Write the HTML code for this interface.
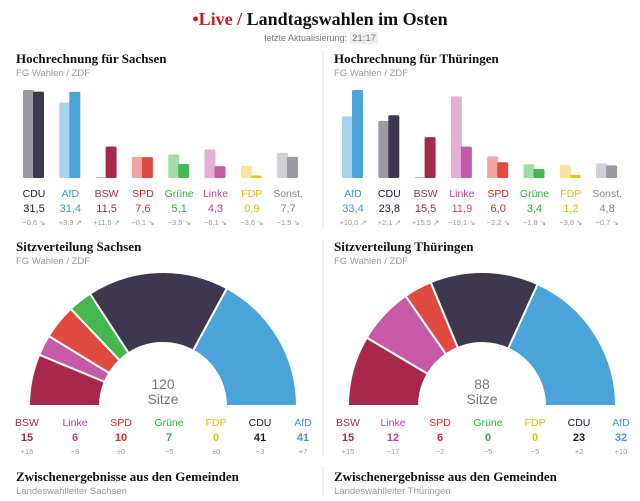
<!DOCTYPE html>
<html><head><meta charset="utf-8">
<style>
body{margin:0;background:#fff;width:640px;height:496px;overflow:hidden;font-family:"Liberation Sans",sans-serif}
svg text{font-family:"Liberation Sans",sans-serif}
.serif{font-family:"Liberation Serif",serif;font-weight:bold}
</style></head>
<body>
<svg id="c" width="640" height="496" viewBox="0 0 640 496" xmlns="http://www.w3.org/2000/svg">
<text x="320" y="25" text-anchor="middle" class="serif" font-size="18"><tspan fill="#d0191f">•Live</tspan><tspan fill="#d0191f"> /</tspan><tspan fill="#111"> Landtagswahlen im Osten</tspan></text>
<text x="347" y="41" text-anchor="end" font-size="9" fill="#777">letzte Aktualisierung:</text>
<rect x="350" y="32" width="28" height="12" fill="#eee"/>
<text x="364" y="41" text-anchor="middle" font-size="9.5" fill="#777">21:17</text>
<line x1="323" y1="50" x2="323" y2="228" stroke="#e6e6e6"/>
<line x1="323" y1="240" x2="323" y2="456" stroke="#e6e6e6"/>
<line x1="323" y1="466" x2="323" y2="496" stroke="#e6e6e6"/>
<g id="g"></g>
</svg>
<script>
// Hochrechnung Sachsen
const sxParties=["CDU","AfD","BSW","SPD","Grüne","Linke","FDP","Sonst."];
const sxValues=[31.5,31.4,11.5,7.6,5.1,4.3,0.9,7.7];
const sxChanges=[-0.6,3.9,11.5,-0.1,-3.5,-6.1,-3.6,-1.5];
// Hochrechnung Thüringen
const thParties=["AfD","CDU","BSW","Linke","SPD","Grüne","FDP","Sonst."];
const thValues=[33.4,23.8,15.5,11.9,6.0,3.4,1.2,4.8];
const thChanges=[10.0,2.1,15.5,-19.1,-2.2,-1.8,-3.8,-0.7];
// Sitzverteilung
const seatParties=["BSW","Linke","SPD","Grüne","FDP","CDU","AfD"];
const sxSeats=[15,6,10,7,0,41,41];
const sxSeatChanges=["+15","−8","±0","−5","±0","−3","+7"];
const thSeats=[15,12,6,0,0,23,32];
const thSeatChanges=["+15","−17","−2","−5","−5","+2","+10"];

const dark={CDU:"#3d3750",AfD:"#4aa3d9",BSW:"#a8284d",SPD:"#e04a40","Grüne":"#45b84f",Linke:"#c65aa6",FDP:"#f5c11a","Sonst.":"#9a9aa3"};
const light={CDU:"#9c99a3",AfD:"#a6d3ef",BSW:"#e3a8bb",SPD:"#f0a5a0","Grüne":"#a3dca7",Linke:"#e5afd5",FDP:"#fae3a0","Sonst.":"#cfcfd4"};
const txt={CDU:"#1a1a2e",AfD:"#3a9ad6",BSW:"#a8284d",SPD:"#e3262b","Grüne":"#2fb33a",Linke:"#c2409d",FDP:"#f3b800","Sonst.":"#888"};
const NS="http://www.w3.org/2000/svg";
const G=document.getElementById('g');
function el(t,a,txtc){const e=document.createElementNS(NS,t);for(const k in a)e.setAttribute(k,a[k]);if(txtc!==undefined)e.textContent=txtc;G.appendChild(e);return e;}
const fmt=v=>v.toFixed(1).replace('.',',');

function header(x,y,title,src,key){
  const t=el('text',{x:x,y:y,'font-size':13,fill:'#111','class':'serif'},title);
  
  
  const s=el('text',{x:x,y:y+13,'font-size':9.5,fill:'#999'},src);
  
  
}

function bars(x0,parties,values,changes,key){
  const base=178,maxH=88,pitch=36.3,bw=11;
  const prev=values.map((v,i)=>Math.max(0,+(v-changes[i]).toFixed(1)));
  const mx=Math.max(...values,...prev);
  const y=v=>base-v/mx*maxH;
  parties.forEach((p,i)=>{
    const gx=x0+i*pitch;
    const hp=Math.max(1,base-y(prev[i]));
    const r1=el('rect',{x:gx,y:base-hp,width:bw,height:hp,rx:1.5,fill:light[p]});
    
    
    const hv=Math.max(1,base-y(values[i]));
    const r2=el('rect',{x:gx+bw-1,y:base-hv,width:bw,height:hv,rx:1.5,fill:dark[p]});
    
    
    const cx=gx+bw;
    const l=el('text',{x:cx,y:197,'text-anchor':'middle','font-size':10.5,fill:txt[p]},p);
    
    
    const v=el('text',{x:cx,y:212,'text-anchor':'middle','font-size':11,fill:txt[p]},fmt(values[i]));
    
    
    const c=changes[i];
    const ct=(c>0?'+':'−')+fmt(Math.abs(c))+(c>0?' ↗':' ↘');
    const ce=el('text',{x:cx,y:225,'text-anchor':'middle','font-size':7.5,fill:'#999'},ct);
    
    
  });
}

function parliament(cx,seats,changes,legendX,key){
  const cy=406,R=134,r=63;
  const total=seats.reduce((a,b)=>a+b,0);
  let acc=0;
  seats.forEach((s,i)=>{
    const p=seatParties[i];
    if(s>0){
      const a0=Math.PI-acc/total*Math.PI, a1=Math.PI-(acc+s)/total*Math.PI;
      const P=(rad,a)=>[cx+rad*Math.cos(a),cy-rad*Math.sin(a)];
      const [x1,y1]=P(R,a0),[x2,y2]=P(R,a1),[x3,y3]=P(r,a1),[x4,y4]=P(r,a0);
      const d=`M${x1},${y1}A${R},${R} 0 0 1 ${x2},${y2}L${x3},${y3}A${r},${r} 0 0 0 ${x4},${y4}Z`;
      const e=el('path',{d:d,fill:dark[p],stroke:'#fff','stroke-width':2,'stroke-linejoin':'round'});
      
      
    }
    acc+=s;
    const lx=legendX[i];
    const a=el('text',{x:lx,y:426,'text-anchor':'middle','font-size':10.5,fill:txt[p]},p);
    
    
    const b=el('text',{x:lx,y:441,'text-anchor':'middle','font-size':11,fill:txt[p],'font-weight':'bold'},String(s));
    
    
    const c=el('text',{x:lx,y:454,'text-anchor':'middle','font-size':7.5,fill:'#999'},changes[i]);
    
    
  });
  const t1=el('text',{x:cx,y:389,'text-anchor':'middle','font-size':14,fill:'#777'},String(total));
  
  
  const t2=el('text',{x:cx,y:404,'text-anchor':'middle','font-size':14,fill:'#777'},'Sitze');
  
  
}

header(16,63,'Hochrechnung für Sachsen','FG Wahlen / ZDF','sachsen-projection');
header(334,63,'Hochrechnung für Thüringen','FG Wahlen / ZDF','thueringen-projection');
bars(23,sxParties,sxValues,sxChanges,'sachsen');
bars(342,thParties,thValues,thChanges,'thueringen');
header(16,251,'Sitzverteilung Sachsen','FG Wahlen / ZDF','sachsen-seats');
header(334,251,'Sitzverteilung Thüringen','FG Wahlen / ZDF','thueringen-seats');
parliament(163,sxSeats,sxSeatChanges,[27,75,121,169,216,260,303],'sachsen');
parliament(482,thSeats,thSeatChanges,[348,393,440,488,535,579,621],'thueringen');
header(16,481,'Zwischenergebnisse aus den Gemeinden','Landeswahlleiter Sachsen','sachsen-municipal');
header(334,481,'Zwischenergebnisse aus den Gemeinden','Landeswahlleiter Thüringen','thueringen-municipal');
</script>
</body></html>
